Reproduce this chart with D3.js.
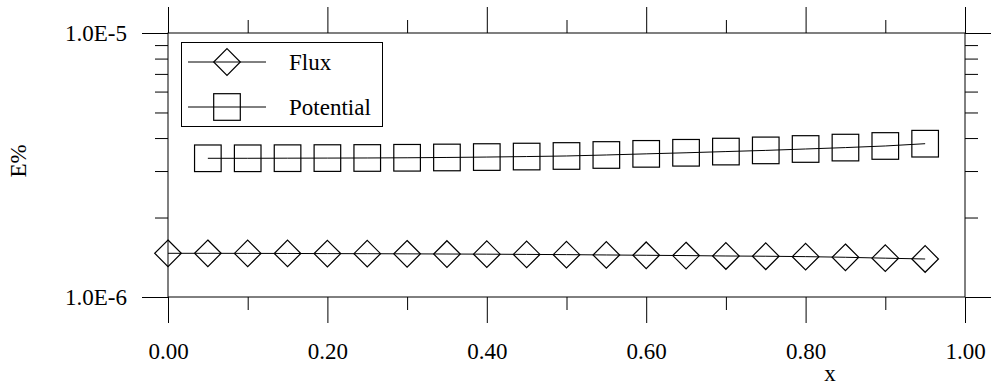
<!DOCTYPE html>
<html>
<head>
<meta charset="utf-8">
<script src="https://cdn.jsdelivr.net/npm/d3@7"></script>
<style>
  html, body { margin: 0; padding: 0; background: #fff; }
  svg { display: block; }
  text { font-family: "Liberation Serif", "Times New Roman", serif; fill: #000; }
</style>
</head>
<body>
<svg id="chart" width="991" height="387" font-family="Liberation Serif, Times New Roman, serif"></svg>
<script>
// ---- data ----
const fluxX = [0.00,0.05,0.10,0.15,0.20,0.25,0.30,0.35,0.40,0.45,0.50,0.55,0.60,0.65,0.70,0.75,0.80,0.85,0.90,0.95];
const fluxY = [1.464e-6,1.464e-6,1.463e-6,1.462e-6,1.460e-6,1.459e-6,1.457e-6,1.455e-6,1.453e-6,1.450e-6,1.447e-6,1.443e-6,1.439e-6,1.435e-6,1.430e-6,1.427e-6,1.422e-6,1.414e-6,1.403e-6,1.393e-6];
const potX = [0.05,0.10,0.15,0.20,0.25,0.30,0.35,0.40,0.45,0.50,0.55,0.60,0.65,0.70,0.75,0.80,0.85,0.90,0.95];
const potY = [3.353e-6,3.353e-6,3.356e-6,3.359e-6,3.362e-6,3.368e-6,3.377e-6,3.389e-6,3.404e-6,3.421e-6,3.451e-6,3.485e-6,3.518e-6,3.555e-6,3.592e-6,3.636e-6,3.681e-6,3.733e-6,3.808e-6];
const xMajorTicks = [0, 0.2, 0.4, 0.6, 0.8, 1.0];
const xMinorTicks = [0.1, 0.3, 0.5, 0.7, 0.9];
const xTickLabels = ["0.00","0.20","0.40","0.60","0.80","1.00"];
const yMajorTicks = [1e-6, 1e-5];
const yMinorTicks = [2e-6,3e-6,4e-6,5e-6,6e-6,7e-6,8e-6,9e-6];
const yTickLabels = ["1.0E-6","1.0E-5"];
const seriesNames = ["Flux","Potential"];
const xTitle = "x";
const yTitle = "E%";

// ---- layout ----
const L = 168, R = 965, T = 33, B = 297;
const svg = d3.select("#chart");
const x = d3.scaleLinear().domain([0, 1]).range([L, R]);
const y = d3.scaleLog().domain([1e-6, 1e-5]).range([B, T]);
const FS = 23;
const FONT = '"Liberation Serif", "Times New Roman", serif';
const MAJ = 26, MIN = 13;

function styleAxis(g) {
  g.attr("font-family", null).attr("font-size", null);
  g.select(".domain").remove();
  g.selectAll("line").attr("stroke", "#000").attr("stroke-width", 1);
  g.selectAll("text").style("font-family", FONT).style("font-size", FS + "px").attr("fill", "#000");
}

// bottom
svg.append("g").attr("transform", `translate(0,${B})`)
  .call(d3.axisBottom(x).tickValues(xMajorTicks).tickSize(MAJ).tickSizeOuter(0).tickPadding(20)
    .tickFormat((d, i) => xTickLabels[i])).call(styleAxis);
svg.append("g").attr("transform", `translate(0,${B})`)
  .call(d3.axisBottom(x).tickValues(xMinorTicks).tickSize(MIN).tickSizeOuter(0).tickFormat("")).call(styleAxis);
// top
svg.append("g").attr("transform", `translate(0,${T})`)
  .call(d3.axisTop(x).tickValues(xMajorTicks).tickSize(MAJ).tickSizeOuter(0).tickFormat("")).call(styleAxis);
svg.append("g").attr("transform", `translate(0,${T})`)
  .call(d3.axisTop(x).tickValues(xMinorTicks).tickSize(MIN).tickSizeOuter(0).tickFormat("")).call(styleAxis);
// left
svg.append("g").attr("transform", `translate(${L},0)`)
  .call(d3.axisLeft(y).tickValues(yMajorTicks).tickSize(MAJ).tickSizeOuter(0).tickPadding(15)
    .tickFormat((d, i) => yTickLabels[i])).call(styleAxis);
svg.append("g").attr("transform", `translate(${L},0)`)
  .call(d3.axisLeft(y).tickValues(yMinorTicks).tickSize(MIN).tickSizeOuter(0).tickFormat("")).call(styleAxis);
// right
svg.append("g").attr("transform", `translate(${R},0)`)
  .call(d3.axisRight(y).tickValues(yMajorTicks).tickSize(MAJ).tickSizeOuter(0).tickFormat("")).call(styleAxis);
svg.append("g").attr("transform", `translate(${R},0)`)
  .call(d3.axisRight(y).tickValues(yMinorTicks).tickSize(MIN).tickSizeOuter(0).tickFormat("")).call(styleAxis);

// frame
svg.append("rect").attr("x", L).attr("y", T).attr("width", R - L).attr("height", B - T)
  .attr("fill", "none").attr("stroke", "#000").attr("stroke-width", 1);

// axis titles
svg.append("text").attr("x", 830).attr("y", 381).attr("text-anchor", "middle")
  .style("font-family", FONT).style("font-size", FS + "px").text(xTitle);
svg.append("text").attr("transform", "translate(26,161) rotate(-90)").attr("text-anchor", "middle")
  .style("font-family", FONT).style("font-size", FS + "px").text(yTitle);

// series
const line = d3.line().x(d => x(d[0])).y(d => y(d[1]));
const fluxData = fluxX.map((v, i) => [v, fluxY[i]]);
const potData = potX.map((v, i) => [v, potY[i]]);
const HD = 13.3, HS = 13.3;
function diamond(g, cx, cy) {
  g.append("path").attr("d", `M${cx},${cy - HD}L${cx + HD},${cy}L${cx},${cy + HD}L${cx - HD},${cy}Z`)
    .attr("fill", "none").attr("stroke", "#000").attr("stroke-width", 1.2);
}
function square(g, cx, cy) {
  g.append("rect").attr("x", cx - HS).attr("y", cy - HS).attr("width", 2 * HS).attr("height", 2 * HS)
    .attr("fill", "none").attr("stroke", "#000").attr("stroke-width", 1.2);
}
svg.append("path").datum(fluxData).attr("d", line).attr("fill", "none").attr("stroke", "#000").attr("stroke-width", 1);
svg.append("path").datum(potData).attr("d", line).attr("fill", "none").attr("stroke", "#000").attr("stroke-width", 1);
const mg = svg.append("g");
fluxData.forEach(d => diamond(mg, x(d[0]), y(d[1])));
potData.forEach(d => square(mg, x(d[0]), y(d[1])));

// legend
const lg = svg.append("g");
lg.append("rect").attr("x", 181.5).attr("y", 42.5).attr("width", 201).attr("height", 84)
  .attr("fill", "#fff").attr("stroke", "#000").attr("stroke-width", 1);
const legY = [62, 107];
seriesNames.forEach((name, i) => {
  lg.append("line").attr("x1", 188).attr("x2", 266).attr("y1", legY[i]).attr("y2", legY[i])
    .attr("stroke", "#000").attr("stroke-width", 1);
  if (i === 0) diamond(lg, 227, legY[i]); else square(lg, 227, legY[i]);
  lg.append("text").attr("x", 289).attr("y", legY[i]).attr("dy", "0.35em")
    .style("font-family", FONT).style("font-size", FS + "px").text(name);
});
</script>
</body>
</html>
